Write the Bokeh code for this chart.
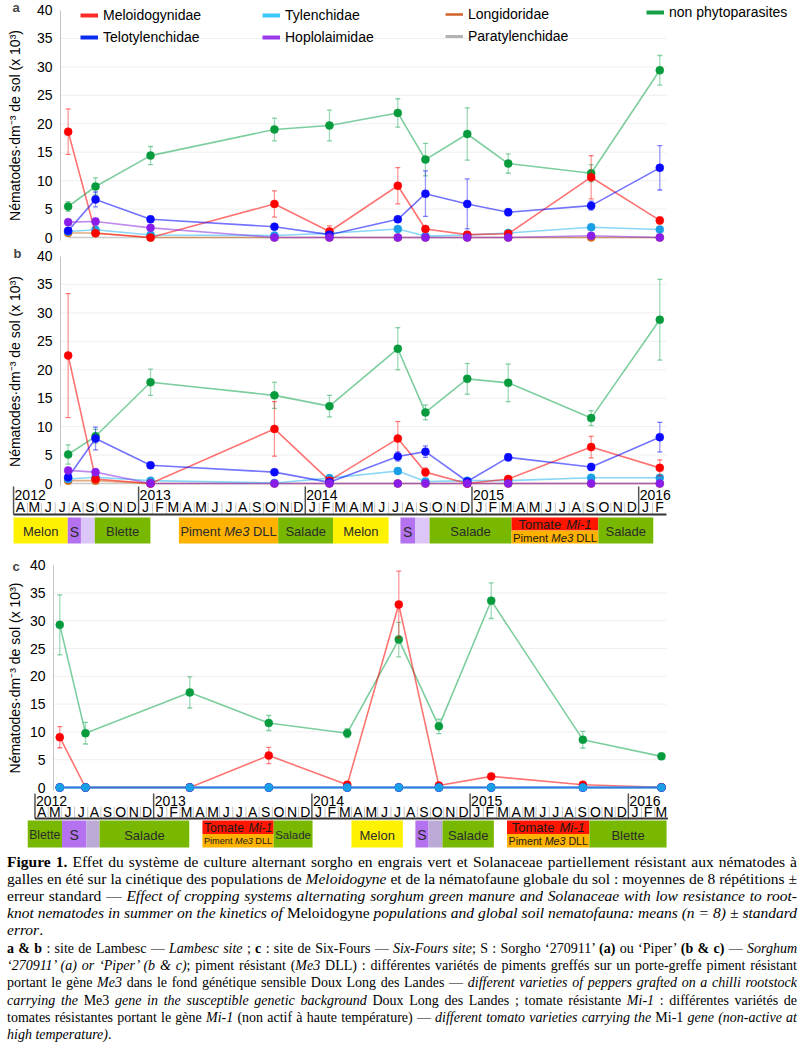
from bokeh.plotting import figure
from bokeh.models import Range1d, Legend, LegendItem, Label, Div, LinearAxis, FixedTicker
from bokeh.layouts import column
from bokeh.embed import file_html
from bokeh.resources import INLINE
from bokeh.core.properties import value

# ---------------------------------------------------------------- data
# x values are months elapsed since 1 January 2012
years = [2012, 2013, 2014, 2015, 2016]
month_letters = ["J", "F", "M", "A", "M", "J", "J", "A", "S", "O", "N", "D"]
axis_ab = [3, 50]   # Apr 2012 .. Feb 2016
axis_c = [3, 51]    # Apr 2012 .. Mar 2016
y_ticks = [0, 5, 10, 15, 20, 25, 30, 35, 40]

families = ["Meloidogynidae", "Telotylenchidae", "Tylenchidae", "Hoplolaimidae",
            "Longidoridae", "Paratylenchidae", "non phytoparasites"]

# sampling dates, Lambesc (a & b)
dates_ab = [6.93, 8.90, 12.86, 21.78, 25.74, 30.66, 32.65, 35.66, 38.61, 44.58, 49.52]

a_melo = [18.6, 0.75, 0.0, 5.9, 1.05, 9.1, 1.5, 0.5, 0.65, 10.6, 3.0]
a_melo_se = [4.0, 0.3, 0.1, 2.3, 1.0, 3.2, 0.4, 0.2, 0.2, 3.8, 0.6]
a_telo = [1.2, 6.7, 3.2, 1.9, 0.5, 3.2, 7.7, 5.9, 4.45, 5.6, 12.25]
a_telo_se = [0.3, 1.3, 0.5, 0.4, 0.2, 0.5, 4.0, 4.4, 0.6, 0.8, 3.9]
a_tyl = [1.05, 1.35, 0.45, 0.35, 0.75, 1.5, 0.25, 0.45, 0.8, 1.8, 1.4]
a_tyl_se = [0.2, 0.3, 0.1, 0.1, 0.2, 0.3, 0.1, 0.1, 0.2, 0.5, 0.3]
a_hop = [2.7, 2.8, 1.7, 0.0, 0.0, 0.0, 0.0, 0.0, 0.0, 0.3, 0.0]
a_hop_se = [0.5, 0.6, 0.3, 0.0, 0.0, 0.0, 0.0, 0.0, 0.0, 0.2, 0.0]
a_long = [0.8, 0.8, 0.0, 0.0, 0.0, 0.0, 0.0, 0.0, 0.0, 0.0, 0.0]
a_para = [0.0, 0.0, 0.0, 0.0, 0.0, 0.0, 0.0, 0.0, 0.0, 0.0, 0.0]
a_nonp = [5.45, 8.97, 14.4, 19.0, 19.7, 21.9, 13.7, 18.2, 13.0, 11.3, 29.4]
a_nonp_se = [0.85, 1.5, 1.6, 2.0, 2.7, 2.5, 2.85, 4.6, 1.7, 1.5, 2.6]

b_melo = [22.5, 0.8, 0.0, 9.6, 0.5, 7.9, 2.0, 0.0, 0.8, 6.4, 2.75]
b_melo_se = [10.9, 0.3, 0.1, 4.8, 0.3, 3.0, 0.7, 0.1, 0.3, 1.9, 1.4]
b_telo = [1.1, 7.9, 3.2, 2.0, 0.2, 4.75, 5.6, 0.35, 4.6, 2.9, 8.15]
b_telo_se = [0.3, 2.0, 0.5, 0.4, 0.1, 0.8, 1.0, 0.2, 0.6, 0.6, 2.6]
b_tyl = [0.8, 1.1, 0.5, 0.1, 0.95, 2.2, 0.35, 0.5, 0.5, 1.0, 1.0]
b_tyl_se = [0.2, 0.3, 0.1, 0.1, 0.2, 0.4, 0.1, 0.1, 0.1, 0.2, 0.2]
b_hop = [2.3, 2.0, 0.0, 0.0, 0.0, 0.0, 0.0, 0.0, 0.0, 0.0, 0.0]
b_hop_se = [0.5, 0.6, 0.0, 0.0, 0.0, 0.0, 0.0, 0.0, 0.0, 0.0, 0.0]
b_long = [0.5, 0.5, 0.0, 0.0, 0.0, 0.0, 0.0, 0.0, 0.0, 0.0, 0.0]
b_para = [0.0, 0.0, 0.0, 0.0, 0.0, 0.0, 0.0, 0.0, 0.0, 0.0, 0.0]
b_nonp = [5.1, 8.3, 17.8, 15.5, 13.6, 23.7, 12.5, 18.4, 17.7, 11.5, 28.8]
b_nonp_se = [1.7, 1.2, 2.3, 2.3, 1.9, 3.7, 1.3, 2.7, 3.3, 1.3, 7.1]

# sampling dates, Six-Fours (c)
dates_c = [4.88, 6.83, 14.74, 20.73, 26.68, 30.59, 33.63, 37.60, 44.55, 50.51]
c_melo = [9.05, 0.0, 0.0, 5.75, 0.5, 32.9, 0.36, 2.0, 0.5, 0.05]
c_melo_se = [1.9, 0.1, 0.1, 1.45, 0.3, 6.0, 0.2, 0.3, 0.2, 0.1]
c_telo = [0.0, 0.0, 0.0, 0.0, 0.0, 0.0, 0.0, 0.0, 0.0, 0.0]
c_tyl = [0.0, 0.0, 0.0, 0.0, 0.0, 0.0, 0.0, 0.0, 0.0, 0.0]
c_hop = [0.0, 0.0, 0.0, 0.0, 0.0, 0.0, 0.0, 0.0, 0.0, 0.0]
c_long = [0.0, 0.0, 0.0, 0.0, 0.0, 0.0, 0.0, 0.0, 0.0, 0.0]
c_para = [0.0, 0.0, 0.0, 0.0, 0.0, 0.0, 0.0, 0.0, 0.0, 0.0]
c_nonp = [29.25, 9.77, 17.1, 11.6, 9.77, 26.6, 11.0, 33.6, 8.6, 5.6]
c_nonp_se = [5.4, 1.95, 2.8, 1.35, 0.8, 3.1, 1.3, 3.2, 1.5, 0.5]

# crop sequences (start / end in months since Jan 2012)
crop_b_start = [3.0, 6.9, 7.85, 8.85, 14.9, 22.05, 26.0, 30.85, 31.9, 32.95, 38.85, 45.1]
crop_b_end = [6.9, 7.85, 8.85, 12.85, 22.05, 26.0, 30.0, 31.9, 32.95, 38.85, 45.1, 49.05]
crop_b_kind = ["melon", "sorgho", "jachere", "blette", "piment", "salade", "melon",
               "sorgho", "jachere", "salade", "tomate", "salade"]

crop_c_start = [2.45, 5.05, 6.9, 7.9, 15.7, 21.1, 27.0, 31.85, 32.85, 33.9, 38.8, 45.05]
crop_c_end = [5.05, 6.9, 7.9, 14.7, 21.1, 24.05, 30.9, 32.85, 33.9, 37.8, 45.05, 50.9]
crop_c_kind = ["blette", "sorgho", "jachere", "salade", "tomate", "salade", "melon",
               "sorgho", "jachere", "salade", "tomate", "blette"]

crop_labels = {"melon": "Melon", "sorgho": "S", "jachere": "", "blette": "Blette",
               "salade": "Salade", "piment": "Piment *Me3* DLL",
               "tomate": ["Tomate *Mi-1*", "Piment *Me3* DLL"]}

# ---------------------------------------------------------------- styles
FONT = "Liberation Sans"
W = 800
PLOT_RIGHT = 666
YLABEL = "Nématodes·dm⁻³ de sol (x 10³)"

line_col = {"Meloidogynidae": "#ff0000", "Telotylenchidae": "#0000ff",
            "Tylenchidae": "#2bb5f0", "Hoplolaimidae": "#8a2be2",
            "Longidoridae": "#d2691e", "Paratylenchidae": "#a0a0a0",
            "non phytoparasites": "#12a650"}
dot_col = {"Meloidogynidae": "#ff0000", "Telotylenchidae": "#0a0aff",
           "Tylenchidae": "#1a9fe6", "Hoplolaimidae": "#8a1ee8",
           "Longidoridae": "#d2691e", "Paratylenchidae": None,
           "non phytoparasites": "#079b3d"}
leg_col = {"Meloidogynidae": "#ff2b2b", "Telotylenchidae": "#0a2cf0",
           "Tylenchidae": "#3cc8f8", "Hoplolaimidae": "#9a3bea",
           "Longidoridae": "#d0622a", "Paratylenchidae": "#b3b3b3",
           "non phytoparasites": "#18a048"}
leg_w = {"Longidoridae": 2.5, "Paratylenchidae": 3}
crop_col = {"melon": "#fff200", "sorgho": "#b472f0", "blette": "#79b800",
            "salade": "#79b800", "piment": "#ffb300", "tomate": "#ff1500"}
order_ab = ["Paratylenchidae", "Longidoridae", "non phytoparasites", "Tylenchidae",
            "Meloidogynidae", "Telotylenchidae", "Hoplolaimidae"]
order_c = ["Paratylenchidae", "Longidoridae", "Hoplolaimidae", "non phytoparasites",
           "Meloidogynidae", "Telotylenchidae", "Tylenchidae"]

ARIAL = {" ": .278, "A": .667, "B": .667, "D": .722, "L": .556, "M": .833, "P": .667,
         "S": .667, "T": .611, "a": .556, "d": .556, "e": .556, "i": .222, "l": .222,
         "m": .833, "n": .556, "o": .556, "t": .278, "-": .333}
PX = "px"   # name of the extra y range measured in pixels from the top of a figure


def em(s):
    return sum(ARIAL.get(ch, .556) for ch in s)


def rich_parts(label):
    return [(t, i % 2 == 1) for i, t in enumerate(label.split("*")) if t]


def draw_rich(p, xc, y, label, size, color="#2b2b2b"):
    parts = rich_parts(label)
    total = sum(em(t) for t, _ in parts) * size
    off = -total / 2.0
    for t, ital in parts:
        lead = len(t) - len(t.lstrip())
        p.text(x=[xc], y=[y], text=[t.strip()], x_offset=off + em(" " * lead) * size,
               text_align="left", text_baseline="middle", text_font=value(FONT),
               text_font_size=f"{size:.1f}px", text_font_style="italic" if ital else "normal",
               text_color=color, y_range_name=PX)
        off += em(t) * size


class XMap:
    """pixel <-> month mapping of a time axis"""
    def __init__(self, px0, k):
        self.px0, self.k = px0, k

    def m(self, px):
        return (px - self.px0) / self.k


XAB = XMap(-28.6, 13.891)
XC = XMap(-5.08, 13.186)


def panel(xm, height, y40, y0, axis_px, letter, letter_px, series, dates, standoff, order,
          legend=False):
    k = (y0 - y40) / 40.0
    p = figure(width=W, height=height, x_range=Range1d(xm.m(0), xm.m(W)),
               y_range=Range1d(-(height - y0) / k, 40 + y40 / k),
               output_backend="svg", toolbar_location=None, x_axis_location=None,
               y_axis_location=None, min_border_left=0, min_border_right=0,
               min_border_top=0, min_border_bottom=0)
    p.extra_y_ranges = {PX: Range1d(height, 0)}
    p.outline_line_color = None
    p.background_fill_color = "white"
    p.grid.visible = False
    ax = LinearAxis(fixed_location=xm.m(axis_px), ticker=FixedTicker(ticks=y_ticks),
                    bounds=(-0.6, 40))
    ax.axis_line_color = "#c4c4c4"
    ax.major_tick_line_color = None
    ax.minor_tick_line_color = None
    ax.major_label_text_font = FONT
    ax.major_label_text_font_size = "14px"
    ax.major_label_text_color = "black"
    ax.major_label_standoff = 2
    ax.axis_label = YLABEL
    ax.axis_label_text_font = FONT
    ax.axis_label_text_font_size = "14px"
    ax.axis_label_text_font_style = "normal"
    ax.axis_label_text_color = "black"
    ax.axis_label_standoff = standoff
    p.add_layout(ax, "left")

    # horizontal grid lines, only across the plotting area
    g = y_ticks[1:-1]
    p.segment(x0=[xm.m(axis_px)] * len(g), y0=g, x1=[xm.m(PLOT_RIGHT)] * len(g), y1=g,
              line_color="#efefef", line_width=1)

    for fam in order:
        vals, se = series[fam]
        lw = 3 if (fam == "Tylenchidae" and max(vals) == 0) else 1.6
        p.line(dates, vals, line_color=line_col[fam], line_alpha=0.55, line_width=lw)
        if se is not None:
            lo = [v - e for v, e in zip(vals, se)]
            hi = [v + e for v, e in zip(vals, se)]
            p.segment(x0=dates, y0=lo, x1=dates, y1=hi, line_color=line_col[fam],
                      line_alpha=0.4, line_width=1.3)
            p.scatter(dates + dates, lo + hi, marker="dash", size=5, line_color=line_col[fam],
                      line_alpha=0.5, line_width=1.3)
        if dot_col[fam]:
            p.scatter(dates, vals, size=8, fill_color=dot_col[fam], line_color=dot_col[fam],
                      line_width=0.5)

    p.add_layout(Label(x=letter_px[0], y=height - letter_px[1], x_units="screen",
                       y_units="screen", text=letter, text_font=FONT,
                       text_font_style="bold", text_font_size="13px",
                       text_baseline="middle", text_align="left"))

    if legend:
        groups = [(families[0:2], 80, 5), (families[2:4], 262, 5), (families[4:6], 445, 4),
                  (families[6:7], 646, 2)]
        nan = float("nan")
        for fams, xpix, ytop in groups:
            items = []
            for fam in fams:
                r = p.line(x=[nan, nan], y=[nan, nan], line_color=leg_col[fam],
                           line_width=leg_w.get(fam, 4))
                items.append(LegendItem(label=fam, renderers=[r]))
            box_bottom = ytop + 22 * len(fams) - 2
            lg = Legend(items=items, location=(xpix, height - box_bottom),
                        orientation="vertical", padding=0, margin=0, spacing=2,
                        glyph_width=18, glyph_height=20, label_height=20,
                        label_standoff=5, label_text_font=FONT,
                        label_text_font_size="14px", label_text_color="black",
                        border_line_color=None, background_fill_alpha=0)
            p.add_layout(lg, "center")
    return p


def timeline(p, xm, top, axis, L, starts, ends, kinds, fallow_color):
    """month axis and crop sequence drawn below a panel (y in pixels from `top`)"""
    Y = {key: (v + top if not isinstance(v, tuple) else tuple(t + top for t in v))
         for key, v in L.items()}
    a0, a1 = axis
    seps = [m for m in range(a0 + 1, a1) if m % 12 != 0]
    p.segment(x0=seps, y0=[Y["sep"]] * len(seps), x1=seps, y1=[Y["base"]] * len(seps),
              line_color="#c8c8c8", line_width=1, y_range_name=PX)
    ypos = [max((y - 2012) * 12, a0) for y in years]
    p.segment(x0=ypos, y0=[Y["ytop"]] * len(ypos), x1=ypos, y1=[Y["base"]] * len(ypos),
              line_color="#555555", line_width=1.5, y_range_name=PX)
    p.text(x=ypos, y=[Y["year"]] * len(ypos), text=[str(y) for y in years], x_offset=1,
           text_align="left", text_baseline="middle", text_font=value(FONT),
           text_font_size="14px", text_color="black", y_range_name=PX)
    months = list(range(a0, a1))
    p.text(x=[m + 0.5 for m in months], y=[Y["month"]] * len(months),
           text=[month_letters[m % 12] for m in months], text_align="center",
           text_baseline="middle", text_font=value(FONT), text_font_size="14px",
           text_color="black", y_range_name=PX)
    p.segment(x0=[a0], y0=[Y["base"]], x1=[a1], y1=[Y["base"]], line_color="#333333",
              line_width=2, y_range_name=PX)
    bt, bb = Y["bar"]
    mid = (bt + bb) / 2.0
    scale = xm.k
    for s, e, kd in zip(starts, ends, kinds):
        wpx = (e - s) * scale
        xc = (s + e) / 2.0
        if kd == "tomate":
            p.quad(left=[s], right=[e], top=[bt], bottom=[mid], fill_color=crop_col["tomate"],
                   line_color=None, y_range_name=PX)
            p.quad(left=[s], right=[e], top=[mid], bottom=[bb], fill_color=crop_col["piment"],
                   line_color=None, y_range_name=PX)
            for lab, yy in zip(crop_labels[kd], [(bt + mid) / 2.0 + 0.5, (mid + bb) / 2.0 + 0.5]):
                size = min(13.0, (wpx - 3) / em(lab.replace("*", "")))
                draw_rich(p, xc, yy, lab, size, color="#1a1a1a")
        else:
            fc = fallow_color if kd == "jachere" else crop_col[kd]
            p.quad(left=[s], right=[e], top=[bt], bottom=[bb], fill_color=fc, line_color=None,
                   y_range_name=PX)
            lab = crop_labels[kd]
            if lab:
                size = 14.0 if lab == "S" else min(13.0, (wpx - 3) / em(lab.replace("*", "")))
                draw_rich(p, xc, mid + 1, lab, size)


def fam_series(melo, melo_se, telo, telo_se, tyl, tyl_se, hop, hop_se, long_, para, nonp, nonp_se):
    return {"Meloidogynidae": (melo, melo_se), "Telotylenchidae": (telo, telo_se),
            "Tylenchidae": (tyl, tyl_se), "Hoplolaimidae": (hop, hop_se),
            "Longidoridae": (long_, None), "Paratylenchidae": (para, None),
            "non phytoparasites": (nonp, nonp_se)}


pa = panel(XAB, 246, 9.5, 237, 60, "a", (12, 7),
           fam_series(a_melo, a_melo_se, a_telo, a_telo_se, a_tyl, a_tyl_se,
                      a_hop, a_hop_se, a_long, a_para, a_nonp, a_nonp_se),
           dates_ab, 11, order_ab, legend=True)
pb = panel(XAB, 304, 9.5, 237, 60, "b", (13, 7),
           fam_series(b_melo, b_melo_se, b_telo, b_telo_se, b_tyl, b_tyl_se,
                      b_hop, b_hop_se, b_long, b_para, b_nonp, b_nonp_se),
           dates_ab, 11, order_ab)
timeline(pb, XAB, 242, axis_ab,
         {"ytop": -2, "sep": 14, "base": 26, "year": 6.5, "month": 18.5, "bar": (29, 55)},
         crop_b_start, crop_b_end, crop_b_kind, "#dcc6f7")
pc = panel(XC, 300, 14.6, 237, 53, "c", (12, 15.5),
           fam_series(c_melo, c_melo_se, c_telo, None, c_tyl, None,
                      c_hop, None, c_long, c_para, c_nonp, c_nonp_se),
           dates_c, 4, order_c)
timeline(pc, XC, 243, axis_c,
         {"ytop": 0, "sep": 13, "base": 25, "year": 7, "month": 18, "bar": (27, 54)},
         crop_c_start, crop_c_end, crop_c_kind, "#bcaad6")

caption1 = ("<b>Figure 1.</b> Effet du système de culture alternant sorgho en engrais vert et "
            "Solanaceae partiellement résistant aux nématodes à galles en été sur la cinétique des "
            "populations de <i>Meloidogyne</i> et de la nématofaune globale du sol : moyennes de 8 "
            "répétitions ± erreur standard — <i>Effect of cropping systems alternating sorghum green "
            "manure and Solanaceae with low resistance to root-knot nematodes in summer on the "
            "kinetics of </i>Meloidogyne<i> populations and global soil nematofauna: means (n = 8) "
            "± standard error</i>.")
caption2 = ("<b>a &amp; b</b> : site de Lambesc — <i>Lambesc site</i> ; <b>c</b> : site de "
            "Six-Fours — <i>Six-Fours site</i>; S : Sorgho ‘270911’ <b>(a)</b> ou ‘Piper’ "
            "<b>(b &amp; c)</b> — <i>Sorghum ‘270911’ (a) or ‘Piper’ (b &amp; c)</i>; piment "
            "résistant (<i>Me3</i> DLL) : différentes variétés de piments greffés sur un "
            "porte-greffe piment résistant portant le gène <i>Me3</i> dans le fond génétique "
            "sensible Doux Long des Landes — <i>different varieties of peppers grafted on a chilli "
            "rootstock carrying the </i>Me3<i> gene in the susceptible genetic background </i>Doux "
            "Long des Landes ; tomate résistante <i>Mi-1</i> : différentes variétés de tomates "
            "résistantes portant le gène <i>Mi-1</i> (non actif à haute température) — "
            "<i>different tomato varieties carrying the </i>Mi-1<i> gene (non-active at high "
            "temperature)</i>.")
cap = Div(text=(f'<p style="margin:0 0 2px 0;font-size:15.5px;line-height:17px;text-align:justify">{caption1}</p>'
                f'<p style="margin:0;font-size:14px;line-height:17.2px;text-align:justify">{caption2}</p>'),
          width=790, margin=(3, 5, 0, 7),
          styles={"font-family": "'Liberation Serif', serif", "color": "black"})

layout = column(pa, pb, pc, cap, spacing=0)
open("out.html", "w").write(file_html(layout, INLINE))
